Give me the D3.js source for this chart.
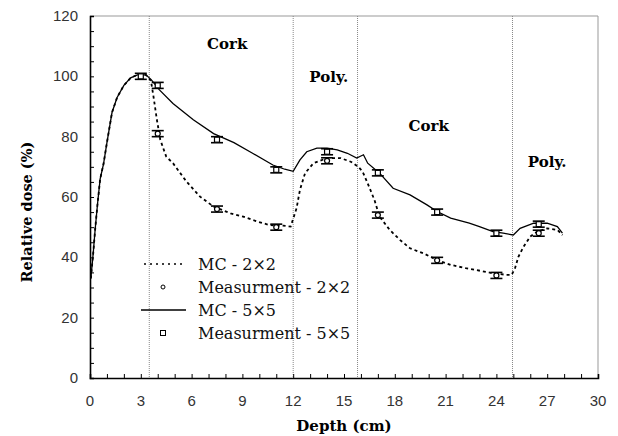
<!DOCTYPE html>
<html>
<head>
<meta charset="utf-8">
<script src="https://cdn.jsdelivr.net/npm/d3@7"></script>
<style>
  body { margin: 0; background: #fff; }
  svg { display: block; }
  .sans { font-family: "Liberation Sans", Arial, sans-serif; }
</style>
</head>
<body>
<div id="chart"></div>
<script>
// MC curves (depth in cm, relative dose in %)
const depth5 = [0.05,0.1,0.2,0.3,0.45,0.6,0.8,1.0,1.3,1.6,2.0,2.4,2.8,3.3,3.6,4.1,4.9,6.1,7.3,8.5,9.6,10.8,11.5,12.0,12.4,12.8,13.4,14.0,14.6,15.2,15.75,16.15,16.4,17.1,17.9,18.9,19.9,20.5,21.3,22.4,23.0,23.8,24.4,25.0,25.4,26.2,27.0,27.6,27.9];
const dose5 = [33,36,42,49,58,66,71,78,88,93,97,99.5,100.5,100.5,99,95.5,91,85.6,81,78,74.5,70.6,69.2,68.5,72.3,75,76.2,76.2,75.6,74.5,72.9,74,71.2,67.9,62.9,60.7,57.4,55.2,53,51.3,50.2,48.5,48,47.4,49.6,51.3,51.3,50.2,48];

const depth2 = [0.05,0.1,0.2,0.3,0.45,0.6,0.8,1.0,1.3,1.6,2.0,2.4,2.8,3.3,3.6,3.75,3.95,4.15,4.5,4.9,5.7,6.5,7.3,8.3,9.05,9.85,10.6,11.4,11.85,12.2,12.4,12.7,13.2,14.0,14.8,15.4,15.85,16.1,16.4,16.8,17.1,17.7,18.3,18.9,19.7,20.5,21.3,22.2,22.8,23.8,24.6,24.9,25.1,25.3,25.6,26.0,26.4,27.0,27.6,27.9];
const dose2 = [33,36,42,49,58,66,71,78,88,93,97,99.5,100.5,100.5,98.5,93.3,85.6,79,73.4,71.2,65.1,60.1,56.8,54.6,53.5,51.9,50.7,50.5,50.2,56.3,62.4,67.9,71.2,72.9,72.9,71.7,70,68.4,64.5,59,53.5,49.1,45.8,43,41.3,39.1,37.5,36.4,35.8,34.7,34.2,34.2,36.4,40.2,43.5,46.9,48.5,49.6,49.1,47.4];

// measurements
const meas5Depth = [3,4,7.5,11,14,17,20.5,24,26.5];
const meas5Dose = [100,97,79,69,75,68,55,48,51];
const meas2Depth = [4,7.5,11,14,17,20.5,24,26.5];
const meas2Dose = [81,56,50,72,54,39,34,48];
const measErr = 1;

// material boundaries and labels
const boundaries = [3.5, 12, 15.8, 24.95];
const regionNames = ["Cork", "Poly.", "Cork", "Poly."];
const regionX = [8.1, 14.1, 20.0, 27.0];
const regionY = [109, 98, 82, 70];

const xTicks = [0,3,6,9,12,15,18,21,24,27,30];
const yTicks = [0,20,40,60,80,100,120];

const legendNames = ["MC - 2\u00d72", "Measurment - 2\u00d72", "MC - 5\u00d75", "Measurment - 5\u00d75"];

const serifFont = "DejaVu Serif";

const width = 618, height = 436;
const margin = {left: 90, right: 20, top: 16, bottom: 58};

const svg = d3.select("#chart").append("svg")
  .attr("width", width).attr("height", height);

const x = d3.scaleLinear().domain([0, 30]).range([margin.left, width - margin.right]);
const y = d3.scaleLinear().domain([0, 120]).range([height - margin.bottom, margin.top]);

// frame: grey top/right
svg.append("path")
  .attr("d", `M${x(0)},${y(120)}H${x(30)}V${y(0)}`)
  .attr("fill", "none").attr("stroke", "#999").attr("stroke-width", 1);

// boundaries
svg.selectAll("line.bound").data(boundaries).enter().append("line")
  .attr("x1", d => x(d)).attr("x2", d => x(d))
  .attr("y1", y(120)).attr("y2", y(0))
  .attr("stroke", "#888").attr("stroke-width", 1)
  .attr("stroke-dasharray", "1,1");

// axes with inward ticks
const xAxis = svg.append("g").attr("transform", `translate(0,${y(0)})`)
  .call(d3.axisTop(x).ticks(30).tickSize(4).tickFormat(""));
const yAxis = svg.append("g").attr("transform", `translate(${x(0)},0)`)
  .call(d3.axisRight(y).ticks(30).tickSize(4).tickFormat(""));
[xAxis, yAxis].forEach(a => {
  a.select(".domain").attr("stroke", "#000").attr("stroke-width", 1.6);
  a.selectAll(".tick line").attr("stroke", "#000");
});

svg.selectAll("text.xt").data(xTicks).enter().append("text")
  .attr("class", "sans")
  .attr("x", d => x(d)).attr("y", y(0) + 28)
  .attr("text-anchor", "middle")
  .attr("font-size", 15).attr("fill", "#333")
  .text(d => d);

svg.selectAll("text.yt").data(yTicks).enter().append("text")
  .attr("class", "sans")
  .attr("x", x(0) - 12).attr("y", d => y(d) + 5)
  .attr("text-anchor", "end")
  .attr("font-size", 15).attr("fill", "#333")
  .text(d => d);

// axis titles
svg.append("text")
  .style("font-family", serifFont)
  .attr("x", x(15)).attr("y", 431)
  .attr("text-anchor", "middle")
  .attr("font-weight", "bold").attr("font-size", 15)
  .text("Depth (cm)");
svg.append("text")
  .style("font-family", serifFont)
  .attr("transform", `translate(32,${y(55)}) rotate(-90)`)
  .attr("text-anchor", "middle")
  .attr("font-weight", "bold").attr("font-size", 14.5)
  .text("Relative dose (%)");

// region labels
svg.selectAll("text.reg").data(regionNames).enter().append("text")
  .style("font-family", serifFont)
  .attr("x", (d, i) => x(regionX[i])).attr("y", (d, i) => y(regionY[i]))
  .attr("text-anchor", "middle")
  .attr("font-weight", "bold").attr("font-size", 15)
  .text(d => d);

// curves
const line = d3.line().x(d => x(d[0])).y(d => y(d[1]));
svg.append("path")
  .datum(d3.zip(depth5, dose5))
  .attr("d", line).attr("fill", "none")
  .attr("stroke", "#000").attr("stroke-width", 1.3);
svg.append("path")
  .datum(d3.zip(depth2, dose2))
  .attr("d", line).attr("fill", "none")
  .attr("stroke", "#000").attr("stroke-width", 1.8)
  .attr("stroke-dasharray", "3,3");

// measurements with error bars
function drawMeas(dep, dose, shape) {
  const g = svg.append("g");
  const pts = d3.zip(dep, dose);
  const cap = 6;
  pts.forEach(p => {
    const cx = x(p[0]);
    const y1 = y(p[1] + measErr), y2 = y(p[1] - measErr);
    g.append("line").attr("x1", cx).attr("x2", cx).attr("y1", y1).attr("y2", y2)
      .attr("stroke", "#000").attr("stroke-width", 1.2);
    [y1, y2].forEach(yy => g.append("line")
      .attr("x1", cx - cap).attr("x2", cx + cap).attr("y1", yy).attr("y2", yy)
      .attr("stroke", "#000").attr("stroke-width", 1.6));
    if (shape === "square") {
      g.append("rect").attr("x", cx - 2.5).attr("y", y(p[1]) - 2.5)
        .attr("width", 5).attr("height", 5)
        .attr("fill", "#fff").attr("stroke", "#000").attr("stroke-width", 1.2);
    } else {
      g.append("circle").attr("cx", cx).attr("cy", y(p[1])).attr("r", 2.5)
        .attr("fill", "#fff").attr("stroke", "#000").attr("stroke-width", 1.2);
    }
  });
}
drawMeas(meas5Depth, meas5Dose, "square");
drawMeas(meas2Depth, meas2Dose, "circle");

// legend (no background: boundary lines show through)
const legY = [264, 287, 310, 333];
const lg = svg.append("g");
lg.append("line").attr("x1", 144).attr("x2", 185).attr("y1", legY[0]).attr("y2", legY[0])
  .attr("stroke", "#000").attr("stroke-width", 1.3).attr("stroke-dasharray", "2,4");
lg.append("circle").attr("cx", 163).attr("cy", legY[1]).attr("r", 2)
  .attr("fill", "#fff").attr("stroke", "#000").attr("stroke-width", 1);
lg.append("line").attr("x1", 141).attr("x2", 186).attr("y1", legY[2]).attr("y2", legY[2])
  .attr("stroke", "#000").attr("stroke-width", 1.3);
lg.append("rect").attr("x", 160.5).attr("y", legY[3] - 2.5).attr("width", 5).attr("height", 5)
  .attr("fill", "#fff").attr("stroke", "#000").attr("stroke-width", 1);
lg.selectAll("text").data(legendNames).enter().append("text")
  .style("font-family", serifFont)
  .attr("x", 198).attr("y", (d, i) => legY[i] + 6)
  .attr("font-size", 16).attr("fill", "#111")
  .text(d => d);
</script>
</body>
</html>
